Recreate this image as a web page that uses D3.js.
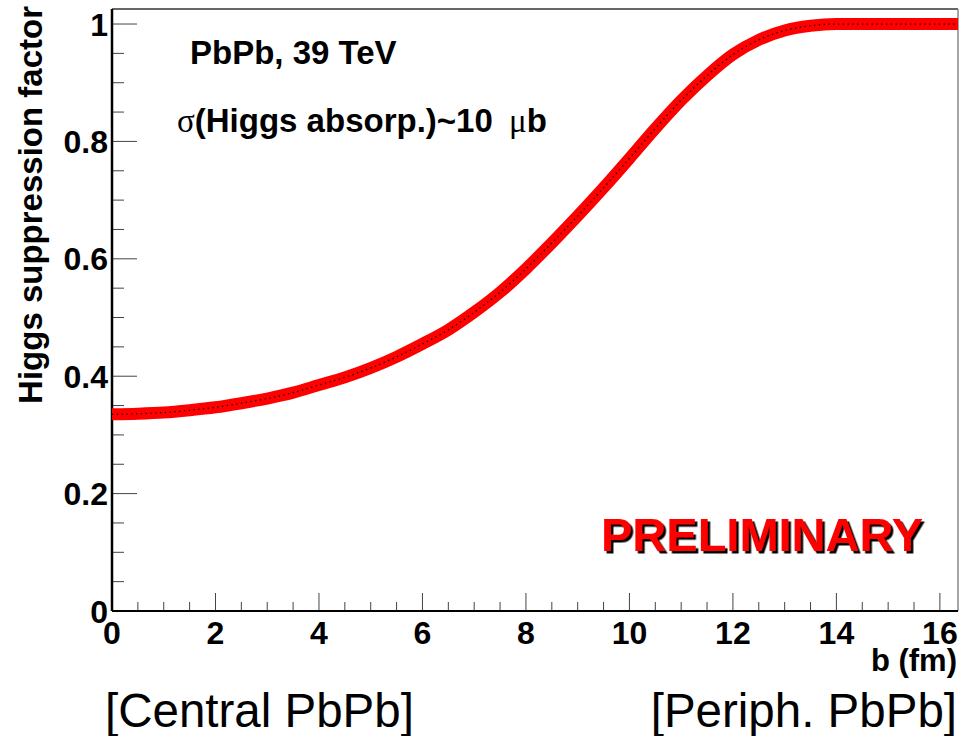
<!DOCTYPE html>
<html><head><meta charset="utf-8">
<script src="https://cdn.jsdelivr.net/npm/d3@7"></script>
<style>body{margin:0;background:#fff}svg{display:block}</style>
</head><body>
<svg id="c" width="969" height="736"></svg>
<script>
const bValues = [0,0.5,1,1.5,2,2.5,3,3.5,4,4.5,5,5.5,6,6.5,7,7.5,8,8.5,9,9.5,10,10.5,11,11.5,12,12.5,13,13.5,14,14.5,15,15.5,16,16.35];
const suppression = [0.335,0.336,0.338,0.342,0.347,0.354,0.362,0.372,0.385,0.398,0.414,0.433,0.455,0.479,0.509,0.543,0.583,0.627,0.673,0.721,0.771,0.822,0.870,0.912,0.948,0.973,0.989,0.997,1.0,1.0,1.0,1.0,1.0,1.0];
const xTicks = [0,2,4,6,8,10,12,14,16];
const yTicks = [0,0.2,0.4,0.6,0.8,1];
const xTitle = "b (fm)";
const yTitle = "Higgs suppression factor";

const svg = d3.select("#c");
const defs = svg.append("defs");
const f = defs.append("filter").attr("id","shadow").attr("x","-5%").attr("y","-20%").attr("width","115%").attr("height","150%");
f.append("feDropShadow").attr("dx",2.5).attr("dy",2.5).attr("stdDeviation",0.3).attr("flood-color","#000").attr("flood-opacity",1);

const L = 112, R = 958, T = 9, B = 611;
const x = d3.scaleLinear().domain([0,16.35]).range([L,R]);
const y = d3.scaleLinear().domain([0,1.0256]).range([B,T]);
const font = "'Liberation Sans', Arial, sans-serif";

// frame top/right
svg.append("line").attr("x1",L).attr("x2",R).attr("y1",T).attr("y2",T).attr("stroke","#333").attr("stroke-width",1.5);
svg.append("line").attr("x1",R).attr("x2",R).attr("y1",T).attr("y2",B).attr("stroke","#888").attr("stroke-width",1.5);

// x ticks
const xMinor = d3.range(0,16.35,0.5).filter(v=>Math.abs(v%2)>1e-9);
svg.append("g").selectAll("line").data(xMinor).join("line")
  .attr("x1",d=>x(d)).attr("x2",d=>x(d)).attr("y1",B).attr("y2",B-9).attr("stroke","#444").attr("stroke-width",1);
svg.append("g").selectAll("line").data(xTicks).join("line")
  .attr("x1",d=>x(d)).attr("x2",d=>x(d)).attr("y1",B).attr("y2",B-18).attr("stroke","#444").attr("stroke-width",1);
// y ticks
const yMinor = d3.range(0,1.0256,0.05).filter(v=>Math.abs(v*5-Math.round(v*5))>1e-6);
svg.append("g").selectAll("line").data(yMinor).join("line")
  .attr("x1",L).attr("x2",L+12).attr("y1",d=>y(d)).attr("y2",d=>y(d)).attr("stroke","#444").attr("stroke-width",1);
svg.append("g").selectAll("line").data(yTicks).join("line")
  .attr("x1",L).attr("x2",L+25).attr("y1",d=>y(d)).attr("y2",d=>y(d)).attr("stroke","#444").attr("stroke-width",1);

// axes lines
svg.append("line").attr("x1",L).attr("x2",R).attr("y1",B).attr("y2",B).attr("stroke","#000").attr("stroke-width",2);
svg.append("line").attr("x1",L).attr("x2",L).attr("y1",T).attr("y2",B).attr("stroke","#000").attr("stroke-width",2.5);

// tick labels
svg.append("g").selectAll("text").data(xTicks).join("text")
  .attr("x",d=>x(d)).attr("y",644).attr("text-anchor","middle")
  .attr("font-family",font).attr("font-weight","bold").attr("font-size",32).text(d=>d);
svg.append("g").selectAll("text").data(yTicks).join("text")
  .attr("x",108).attr("y",d=>y(d)).attr("dy","0.36em").attr("text-anchor","end")
  .attr("font-family",font).attr("font-weight","bold").attr("font-size",32).text(d=>d);

// titles
svg.append("text").attr("x",957).attr("y",671).attr("text-anchor","end")
  .attr("font-family",font).attr("font-weight","bold").attr("font-size",31).text(xTitle);
svg.append("text").attr("transform","translate(42,6) rotate(-90)").attr("text-anchor","end")
  .attr("font-family",font).attr("font-weight","bold").attr("font-size",33).text(yTitle);

// curve
const data = bValues.map((b,i)=>({b, v:suppression[i]}));
const line = d3.line().x(d=>x(d.b)).y(d=>y(d.v)).curve(d3.curveMonotoneX);
svg.append("path").datum(data).attr("d",line).attr("fill","none").attr("stroke","#ff0000").attr("stroke-width",12);
svg.append("path").datum(data).attr("d",line).attr("fill","none").attr("stroke","#000").attr("stroke-width",1.3).attr("stroke-dasharray","1.3,3.5");

// annotations
svg.append("text").attr("x",190).attr("y",64)
  .attr("font-family",font).attr("font-weight","bold").attr("font-size",33).text("PbPb, 39 TeV");
const t2 = svg.append("text").attr("x",177).attr("y",132)
  .attr("font-family",font).attr("font-weight","bold").attr("font-size",33);
t2.append("tspan").attr("font-family","'Liberation Serif', serif").attr("font-weight","normal").text("σ");
t2.append("tspan").text("(Higgs absorp.)~10 ");
t2.append("tspan").attr("font-family","'Liberation Serif', serif").attr("font-weight","normal").attr("dx",7).text("μ");
t2.append("tspan").text("b");

svg.append("text").attr("x",601).attr("y",551).attr("filter","url(#shadow)")
  .attr("font-family",font).attr("font-weight","bold").attr("font-size",47).attr("fill","#ff0000").text("PRELIMINARY");

// bottom labels
svg.append("text").attr("x",105).attr("y",727)
  .attr("font-family",font).attr("font-size",47.5).text("[Central PbPb]");
svg.append("text").attr("x",957).attr("y",727).attr("text-anchor","end")
  .attr("font-family",font).attr("font-size",47.5).text("[Periph. PbPb]");
</script>
</body></html>
